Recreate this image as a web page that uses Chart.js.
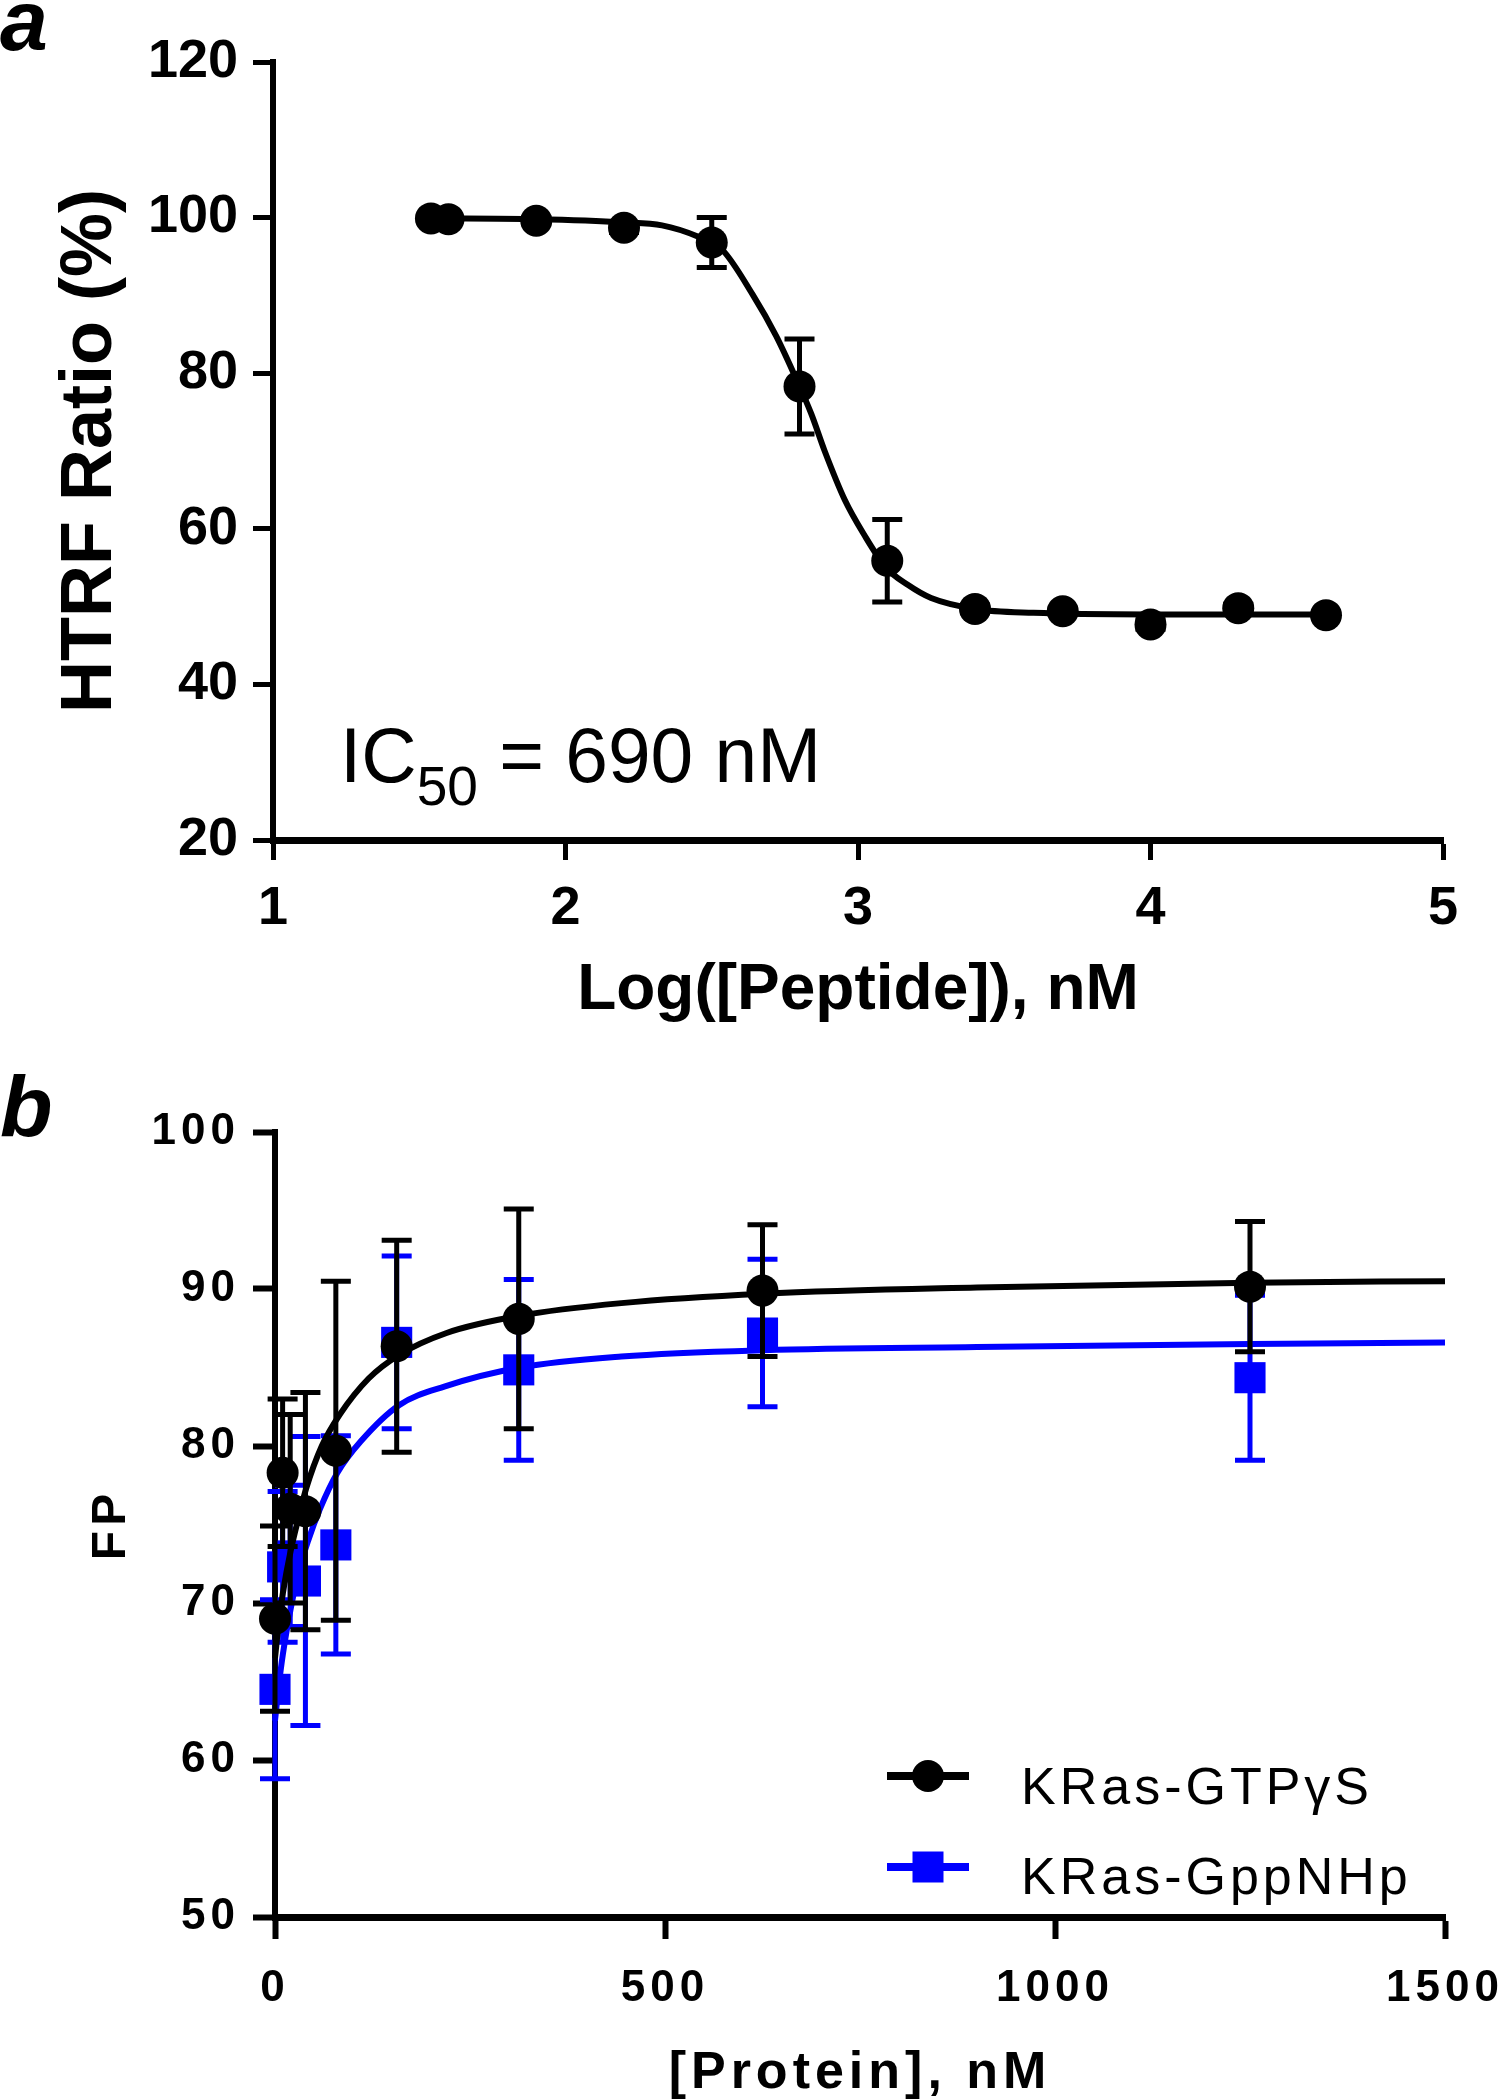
<!DOCTYPE html>
<html><head><meta charset="utf-8">
<script src="https://cdn.jsdelivr.net/npm/chart.js@4.4.1/dist/chart.umd.min.js"></script>
<style>
html,body{margin:0;padding:0;background:#fff;}
#wrap{position:relative;width:1501px;height:2100px;background:#fff;}
canvas{position:absolute;left:0;}
#ca{top:0;} #cb{top:1050px;}
</style></head><body>
<div id="wrap"><canvas id="ca" width="1501" height="1050"></canvas><canvas id="cb" width="1501" height="1050"></canvas></div>
<script>
// ---------- Panel a data ----------
const aLogPeptide = [1.54, 1.6, 1.9, 2.2, 2.5, 2.8, 3.1, 3.4, 3.7, 4.0, 4.3, 4.6];
const aHTRF       = [99.9, 99.8, 99.6, 98.7, 96.8, 78.3, 55.9, 49.7, 49.4, 47.7, 49.8, 48.9];
const aHTRFErr    = [0.3, 0.3, 0.4, 0.6, 3.2, 6.1, 5.3, 0.5, 0.4, 0.6, 0.5, 0.4];
const aFitLog     = [1.54, 1.9, 2.2, 2.33, 2.45, 2.535, 2.64, 2.72, 2.78, 2.84, 2.885, 2.955, 3.02, 3.096, 3.17, 3.25, 3.4, 3.6, 4.0, 4.6];
const aFitHTRF    = [99.9, 99.8, 99.4, 99.0, 97.6, 95.9, 90.1, 84.8, 80.0, 74.8, 70.1, 63.7, 59.3, 55.0, 52.8, 51.1, 49.7, 49.2, 49.0, 49.0];
const aXTicks = [1, 2, 3, 4, 5];
const aYTicks = [20, 40, 60, 80, 100, 120];
const aAnnotation = ['IC', '50', ' = 690 nM'];

// ---------- Panel b data ----------
const bProtein   = [0, 9.77, 19.5, 39, 78, 156, 312.5, 625, 1250];
const bGTPgS     = [69.0, 78.3, 76.0, 75.85, 79.7, 86.35, 88.1, 89.9, 90.15];
const bGTPgSErr  = [5.9, 4.7, 6.0, 7.55, 10.8, 6.75, 7.0, 4.2, 4.15];
const bGppNHp    = [64.5, 72.3, 73.0, 71.4, 73.7, 86.6, 84.85, 87.2, 84.35];
const bGppNHpErr = [5.7, 4.8, 4.5, 9.2, 6.95, 5.5, 5.75, 4.7, 5.25];
const bFitGTPgSX   = [0, 5, 10, 20, 30, 40, 60, 83, 120, 159, 220, 314, 444, 626, 900, 1250, 1500];
const bFitGTPgSY   = [66.5, 68.8, 70.6, 73.3, 75.4, 77.3, 80.0, 82.0, 84.3, 85.8, 87.2, 88.3, 89.1, 89.7, 90.1, 90.4, 90.5];
const bFitGppNHpX  = [0, 5, 10, 20, 30, 42.7, 57.7, 80, 110, 159, 218, 314, 444, 626, 900, 1250, 1500];
const bFitGppNHpY  = [62.5, 64.8, 66.7, 69.6, 71.9, 74.0, 76.0, 78.3, 80.3, 82.6, 83.8, 85.0, 85.7, 86.1, 86.3, 86.5, 86.6];
const bXTicks = [0, 500, 1000, 1500];
const bYTicks = [50, 60, 70, 80, 90, 100];
const bSeriesNames = ['KRas-GTPγS', 'KRas-GppNHp'];

const FONT = "'Liberation Sans', Arial, sans-serif";
const toXY = (xs, ys) => xs.map((x, i) => ({x: x, y: ys[i]}));
const plainLabel = v => String(v);

const errorBarPlugin = {
  id: 'errorBars',
  beforeDatasetDraw(chart, args) {
    const ds = chart.data.datasets[args.index];
    if (!ds.errors) return;
    const xs = chart.scales.x, ys = chart.scales.y, ctx = chart.ctx;
    const cap = ds.errorCap;
    ctx.save();
    ctx.strokeStyle = ds.errorColor;
    ctx.lineWidth = ds.errorWidth;
    ctx.lineCap = 'butt';
    ds.data.forEach((p, i) => {
      const e = ds.errors[i];
      const px = xs.getPixelForValue(p.x);
      const top = ys.getPixelForValue(p.y + e);
      const bot = ys.getPixelForValue(p.y - e);
      ctx.beginPath();
      ctx.moveTo(px, top); ctx.lineTo(px, bot);
      ctx.moveTo(px - cap / 2, top); ctx.lineTo(px + cap / 2, top);
      ctx.moveTo(px - cap / 2, bot); ctx.lineTo(px + cap / 2, bot);
      ctx.stroke();
    });
    ctx.restore();
  }
};

function fixedTicks(list) {
  return s => { s.ticks = list.map(v => ({value: v})); };
}

// ---------------- Chart a ----------------
const panelA = {
  id: 'panelA',
  afterDraw(chart) {
    const ctx = chart.ctx;
    ctx.save();
    ctx.fillStyle = '#000';
    ctx.textBaseline = 'alphabetic';
    ctx.textAlign = 'left';
    ctx.font = 'italic bold 86px ' + FONT;
    ctx.fillText('a', 0, 50);
    const big = '78px ' + FONT, small = '56px ' + FONT;
    ctx.font = big; const w1 = ctx.measureText(aAnnotation[0]).width;
    ctx.font = small; const w2 = ctx.measureText(aAnnotation[1]).width;
    ctx.font = big; const w3 = ctx.measureText(aAnnotation[2]).width;
    const k = 481 / (w1 + w2 + w3);
    ctx.translate(340, 0);
    ctx.scale(k, 1);
    ctx.font = big; ctx.fillText(aAnnotation[0], 0, 782);
    ctx.font = small; ctx.fillText(aAnnotation[1], w1, 805);
    ctx.font = big; ctx.fillText(aAnnotation[2], w1 + w2, 782);
    ctx.restore();
  }
};

new Chart(document.getElementById('ca'), {
  type: 'scatter',
  data: {
    datasets: [
      {
        label: 'fit', data: toXY(aFitLog, aFitHTRF), showLine: true,
        borderColor: '#000', borderWidth: 6, pointRadius: 0, fill: false,
        cubicInterpolationMode: 'monotone', order: 2, clip: false
      },
      {
        label: 'HTRF', data: toXY(aLogPeptide, aHTRF), showLine: false,
        pointRadius: 16, pointStyle: 'circle', pointBackgroundColor: '#000',
        pointBorderColor: '#000', pointBorderWidth: 0, order: 1, clip: false,
        errors: aHTRFErr, errorColor: '#000', errorWidth: 5, errorCap: 30
      }
    ]
  },
  options: {
    responsive: false, animation: false, events: [], devicePixelRatio: 1,
    layout: {padding: {top: 62, right: 58, bottom: 0, left: 0}},
    plugins: {legend: {display: false}, tooltip: {enabled: false}},
    scales: {
      x: {
        type: 'linear', min: 1, max: 5,
        afterBuildTicks: fixedTicks(aXTicks),
        afterFit: s => { s.height = 210; s.paddingLeft = 0; s.paddingRight = 0; },
        border: {display: true, color: '#000', width: 7},
        grid: {display: true, drawOnChartArea: false, drawTicks: true, tickLength: 20, tickWidth: 5, tickColor: '#000', color: '#000'},
        ticks: {color: '#000', padding: 17, maxRotation: 0, autoSkip: false, callback: plainLabel, font: {family: FONT, size: 54, weight: 'bold'}},
        title: {display: true, text: 'Log([Peptide]), nM', color: '#000', font: {family: FONT, size: 64, weight: 'bold'}, padding: {top: 0, bottom: 20}}
      },
      y: {
        type: 'linear', min: 20, max: 120,
        afterBuildTicks: fixedTicks(aYTicks),
        afterFit: s => { s.width = 273; },
        border: {display: true, color: '#000', width: 6},
        grid: {display: true, drawOnChartArea: false, drawTicks: true, tickLength: 20, tickWidth: 5, tickColor: '#000', color: '#000'},
        ticks: {color: '#000', padding: 15, autoSkip: false, callback: plainLabel, font: {family: FONT, size: 54, weight: 'bold'}},
        title: {display: true, text: 'HTRF Ratio (%)', color: '#000', font: {family: FONT, size: 72, weight: 'bold'}, padding: {top: 48, bottom: 0}}
      }
    }
  },
  plugins: [errorBarPlugin, panelA]
});

// ---------------- Chart b ----------------
const spacingB = {
  id: 'spacingB',
  beforeUpdate(chart) { chart.ctx.letterSpacing = '5px'; },
  beforeDraw(chart) { chart.ctx.letterSpacing = '5px'; },
  afterDraw(chart) {
    const ctx = chart.ctx;
    ctx.save();
    ctx.letterSpacing = '0px';
    ctx.fillStyle = '#000';
    ctx.textAlign = 'left';
    ctx.textBaseline = 'alphabetic';
    ctx.font = 'italic bold 86px ' + FONT;
    ctx.fillText('b', 0, 86);
    const rows = [{ds: chart.data.datasets[3], y: 726, base: 754}, {ds: chart.data.datasets[1], y: 817, base: 844}];
    rows.forEach(r => {
      const c = r.ds.pointBackgroundColor;
      ctx.strokeStyle = c; ctx.fillStyle = c; ctx.lineWidth = 8;
      ctx.beginPath(); ctx.moveTo(887, r.y); ctx.lineTo(969, r.y); ctx.stroke();
      ctx.beginPath();
      if (r.ds.pointStyle === 'rect') ctx.rect(928 - 15.5, r.y - 15.5, 31, 31);
      else ctx.arc(928, r.y, 16, 0, Math.PI * 2);
      ctx.fill();
      ctx.fillStyle = '#000';
      ctx.letterSpacing = '4px';
      ctx.font = '52px ' + FONT;
      ctx.fillText(r.ds.label, 1021, r.base);
    });
    ctx.restore();
  }
};

new Chart(document.getElementById('cb'), {
  type: 'scatter',
  data: {
    datasets: [
      {
        label: 'fit GppNHp', data: toXY(bFitGppNHpX, bFitGppNHpY), showLine: true,
        borderColor: '#0000ff', borderWidth: 6, pointRadius: 0, fill: false,
        cubicInterpolationMode: 'monotone', order: 4, clip: false
      },
      {
        label: bSeriesNames[1], data: toXY(bProtein, bGppNHp), showLine: false,
        pointRadius: 22, pointStyle: 'rect', pointBackgroundColor: '#0000ff',
        pointBorderColor: '#0000ff', pointBorderWidth: 0, order: 3, clip: false,
        errors: bGppNHpErr, errorColor: '#0000ff', errorWidth: 5, errorCap: 30
      },
      {
        label: 'fit GTPgS', data: toXY(bFitGTPgSX, bFitGTPgSY), showLine: true,
        borderColor: '#000', borderWidth: 6, pointRadius: 0, fill: false,
        cubicInterpolationMode: 'monotone', order: 2, clip: false
      },
      {
        label: bSeriesNames[0], data: toXY(bProtein, bGTPgS), showLine: false,
        pointRadius: 16, pointStyle: 'circle', pointBackgroundColor: '#000',
        pointBorderColor: '#000', pointBorderWidth: 0, order: 1, clip: false,
        errors: bGTPgSErr, errorColor: '#000', errorWidth: 5, errorCap: 30
      }
    ]
  },
  options: {
    responsive: false, animation: false, events: [], devicePixelRatio: 1,
    layout: {padding: {top: 82, right: 56, bottom: 0, left: 0}},
    plugins: {legend: {display: false}, tooltip: {enabled: false}},
    scales: {
      x: {
        type: 'linear', min: 0, max: 1500,
        afterBuildTicks: fixedTicks(bXTicks),
        afterFit: s => { s.height = 183; s.paddingLeft = 0; s.paddingRight = 0; },
        border: {display: true, color: '#000', width: 7},
        grid: {display: true, drawOnChartArea: false, drawTicks: true, tickLength: 22, tickWidth: 6, tickColor: '#000', color: '#000'},
        ticks: {color: '#000', padding: 23, maxRotation: 0, autoSkip: false, callback: plainLabel, font: {family: FONT, size: 44, weight: 'bold'}},
        title: {display: true, text: '[Protein], nM', color: '#000', font: {family: FONT, size: 52, weight: 'bold', lineHeight: 1}, padding: {top: 0, bottom: 0}}
      },
      y: {
        type: 'linear', min: 50, max: 100,
        afterBuildTicks: fixedTicks(bYTicks),
        afterFit: s => { s.width = 275; },
        border: {display: true, color: '#000', width: 6},
        grid: {display: true, drawOnChartArea: false, drawTicks: true, tickLength: 22, tickWidth: 6, tickColor: '#000', color: '#000'},
        ticks: {color: '#000', padding: 13, autoSkip: false, callback: plainLabel, font: {family: FONT, size: 44, weight: 'bold'}},
        title: {display: true, text: 'FP', color: '#000', font: {family: FONT, size: 48, weight: 'bold'}, padding: {top: 83, bottom: 0}}
      }
    }
  },
  plugins: [spacingB, errorBarPlugin]
});
</script>
</body></html>
